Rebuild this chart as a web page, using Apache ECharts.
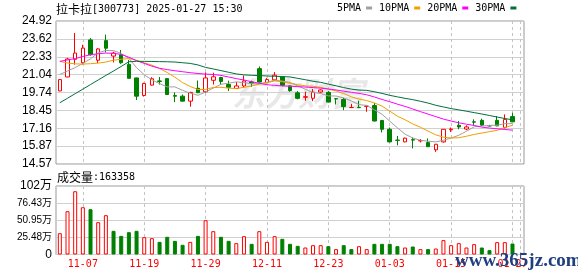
<!DOCTYPE html>
<html><head><meta charset="utf-8">
<script src="https://cdn.jsdelivr.net/npm/echarts/dist/echarts.min.js"></script>
<style>html,body{margin:0;padding:0;background:#fff}#c{width:578px;height:276px}</style>
</head><body><div id="c"></div>
<script>
const dates = ['11-04','11-05','11-06','11-07','11-08','11-11','11-12','11-13','11-14','11-15',
'11-18','11-19','11-20','11-21','11-22','11-25','11-26','11-27','11-28','11-29',
'12-02','12-03','12-04','12-05','12-06','12-09','12-10','12-11','12-12','12-13',
'12-16','12-17','12-18','12-19','12-20','12-23','12-24','12-25','12-26','12-27',
'12-30','12-31','01-02','01-03','01-06','01-07','01-08','01-09','01-10','01-13',
'01-14','01-15','01-16','01-17','01-20','01-21','01-22','01-23','01-24','01-27',''];

const open  = [19.86,20.87,22.15,21.90,23.55,22.08,23.50,22.38,22.48,21.78,
20.80,19.53,20.28,20.58,20.75,19.52,19.48,19.12,20.05,19.80,
20.63,20.83,20.32,20.03,20.22,20.50,21.47,20.47,20.66,20.87,
20.22,19.72,19.40,19.33,19.78,19.75,19.30,19.24,18.65,18.67,
18.74,18.80,17.72,17.08,16.30,16.17,16.33,16.24,16.12,15.60,
16.17,17.05,17.37,17.10,17.62,17.73,17.34,17.73,17.22,18.00];
const close = [20.68,22.17,22.60,22.96,22.48,22.90,22.95,22.60,21.90,20.77,
19.48,20.40,20.74,20.55,19.60,19.48,19.12,19.75,19.73,20.80,
20.88,20.55,20.12,20.22,20.58,20.42,20.50,20.68,21.00,20.27,
19.88,19.32,19.44,19.77,19.93,19.05,19.28,18.72,18.66,18.65,
18.76,17.68,17.08,16.17,16.28,16.44,16.30,16.27,15.82,16.00,
17.08,17.10,17.25,17.25,17.60,17.38,17.33,17.33,17.80,17.62];
const high  = [20.72,22.25,24.05,23.20,23.68,22.96,23.93,22.70,22.82,22.10,
20.82,20.45,20.85,20.87,20.78,19.75,19.60,19.80,20.61,21.20,
21.18,20.88,20.60,20.50,20.97,20.60,21.63,20.80,21.22,20.90,
20.26,19.85,19.80,20.00,19.98,19.85,19.30,19.36,18.92,19.15,
18.76,18.98,17.75,17.21,16.60,16.48,16.49,16.37,16.42,16.02,
17.10,17.21,17.68,17.37,17.80,17.85,17.40,18.04,18.16,18.28];
const low   = [19.84,20.85,21.76,21.78,22.42,21.88,22.65,21.92,21.82,20.75,
19.20,19.45,20.25,20.32,19.58,19.05,19.10,18.72,19.70,19.72,
20.32,20.35,19.85,20.00,20.10,20.15,20.45,20.42,20.60,20.20,
19.80,19.25,19.15,19.12,19.72,19.02,18.88,18.47,18.64,18.64,
18.35,17.66,16.85,16.15,15.92,16.15,15.70,16.13,15.80,15.45,
16.12,16.89,17.08,17.02,17.37,17.32,17.28,17.30,17.14,17.60];

const ma5  = [21.05,21.30,21.55,21.85,22.18,22.62,22.78,22.78,22.57,22.22,
21.54,21.03,20.66,20.39,20.15,20.15,19.90,19.70,19.54,19.78,
20.06,20.34,20.42,20.51,20.47,20.38,20.37,20.48,20.64,20.57,
20.47,20.23,19.98,19.74,19.67,19.50,19.49,19.35,19.13,18.87,
18.81,18.49,18.17,17.67,17.19,16.73,16.45,16.29,16.22,16.17,
16.29,16.45,16.65,16.94,17.26,17.32,17.36,17.38,17.49,17.49];
const ma10 = [22.00,21.88,21.82,21.80,21.83,21.87,21.95,22.08,22.15,22.20,
22.08,21.90,21.72,21.48,21.19,20.85,20.46,20.18,19.96,19.97,
20.11,20.12,20.06,20.03,20.12,20.22,20.36,20.45,20.58,20.52,
20.42,20.30,20.23,20.19,20.12,19.98,19.86,19.67,19.43,19.27,
19.16,18.99,18.76,18.40,18.03,17.77,17.47,17.23,16.95,16.68,
16.51,16.45,16.47,16.58,16.71,16.81,16.91,17.01,17.21,17.37];
const ma20 = [22.00,22.10,22.20,22.35,22.48,22.55,22.60,22.58,22.50,22.30,
22.05,21.85,21.65,21.50,21.40,21.32,21.25,21.18,21.12,21.08,
21.05,20.98,20.87,20.75,20.65,20.52,20.41,20.31,20.26,20.22,
20.20,20.17,20.14,20.10,20.06,20.00,19.93,19.84,19.76,19.68,
19.58,19.42,19.24,19.08,18.90,18.74,18.55,18.36,18.18,18.00,
17.82,17.68,17.55,17.45,17.36,17.24,17.17,17.12,17.07,17.02];
const ma30 = [19.00,19.33,19.66,19.99,20.32,20.65,20.98,21.30,21.63,21.97,
22.00,22.00,21.99,21.98,21.97,21.95,21.90,21.85,21.74,21.56,
21.45,21.33,21.21,21.09,21.02,20.99,20.97,20.94,20.92,20.90,
20.87,20.77,20.67,20.56,20.48,20.35,20.23,20.10,19.99,19.92,
19.90,19.80,19.68,19.54,19.43,19.32,19.23,19.11,18.98,18.82,
18.70,18.58,18.49,18.39,18.29,18.19,18.08,17.97,17.86,17.77];

const volume = [317000,644000,941000,703000,674000,481000,585000,352000,277000,332000,
352000,258000,243000,188000,263000,203000,144000,188000,277000,510000,
347000,263000,203000,169000,273000,159000,347000,188000,273000,233000,
159000,129000,104000,139000,139000,124000,80000,139000,80000,124000,
80000,159000,159000,159000,124000,104000,119000,80000,80000,89000,
214000,139000,169000,104000,154000,104000,65000,184000,184000,163358];
const volUp = [1,1,1,1,0,1,1,0,0,0,0,1,1,0,0,0,0,1,0,1,1,0,0,1,1,0,1,1,1,0,
0,0,1,1,1,0,1,0,0,1,1,0,0,0,0,1,0,1,0,1,1,1,1,1,1,0,0,1,1,0];

const priceTicks = ['14.57','15.87','17.16','18.45','19.74','21.04','22.33','23.62','24.92'];
const volTicks = ['0','25.48万','50.95万','76.43万','102万'];
const maNames = ['5PMA','10PMA','20PMA','30PMA'];
const maColors = ['#a0a0a0','#f0a000','#ff00ff','#00703c'];
const maData = [ma5, ma10, ma20, ma30];

const PMIN = 14.57, PMAX = 24.92, PINT = (PMAX - PMIN) / 8;
const VMAX = 1019100, VINT = VMAX / 4;

const GL = 56, GW = 468;
const band = GW / dates.length;
const PT = 21, PH = 143, VT = 186, VH = 68.5;

const chart = echarts.init(document.getElementById('c'), null, {renderer: 'canvas'});
const mono = 'DejaVu Sans Mono';
const cjk = 'Noto Sans CJK SC';
const titleRich = {c: {fontFamily: cjk, fontSize: 12, color: '#000', fontWeight: 'normal'},
                   m: {fontFamily: mono, fontSize: 10, color: '#000', fontWeight: 'normal'}};

// Overlay grids shifted half a day left: their category boundaries fall on the day centres,
// so their split lines mark the labelled days (every 8th day, starting with day 3).
const dashStyle = {type: [3, 3], color: '#c4c4c4', width: 1};
const overlayX = g => ({type: 'category', gridIndex: g, data: dates, boundaryGap: true,
  axisLine: {show: false}, axisTick: {show: false}, axisLabel: {show: false},
  splitLine: {show: true, interval: i => i % 8 === 4, lineStyle: dashStyle}});
const overlayY = (g, mn, mx) => ({type: 'value', gridIndex: g, min: mn, max: mx,
  axisLine: {show: false}, axisTick: {show: false}, axisLabel: {show: false}, splitLine: {show: false}});

chart.setOption({
  animation: false,
  backgroundColor: '#fff',
  title: [
    {text: '{c|拉卡拉}{m|[300773] 2025-01-27 15:30}', left: 56, top: 3, padding: 0,
     textStyle: {fontWeight: 'normal', rich: titleRich}},
    {text: '{c|成交量}{m|:163358}', left: 57, top: 171, padding: 0,
     textStyle: {fontWeight: 'normal', rich: titleRich}}
  ],
  legend: {
    data: maNames, left: 337, top: 3, padding: 0, align: 'right', icon: 'rect',
    itemWidth: 6, itemHeight: 3, itemGap: 7, selectedMode: false,
    textStyle: {fontFamily: mono, fontSize: 10, color: '#000'}
  },
  graphic: [
    {type: 'text', left: 232, top: 77, z: 0, silent: true,
     style: {text: '东方财富', fontFamily: cjk, fontSize: 33, fontWeight: 'bold', fontStyle: 'italic', fill: '#e8e8e8'}},
    {type: 'text', left: 455, top: 252, z: 100, silent: true,
     style: {text: 'www.365jz.com', fontFamily: 'Liberation Serif', fontSize: 19, fontWeight: 'bold', fill: '#1f3f80'}}
  ],
  grid: [
    {left: GL, top: PT, width: GW, height: PH, show: true, borderColor: '#999', borderWidth: 1},
    {left: GL, top: VT, width: GW, height: VH, show: true, borderColor: '#999', borderWidth: 1},
    {left: GL - band / 2, top: PT, width: GW, height: PH, show: false},
    {left: GL - band / 2, top: VT, width: GW, height: VH, show: false}
  ],
  xAxis: [
    {type: 'category', gridIndex: 0, data: dates, boundaryGap: true,
     axisLine: {show: false}, axisTick: {show: false}, axisLabel: {show: false}, splitLine: {show: false}},
    {type: 'category', gridIndex: 1, data: dates, boundaryGap: true,
     axisLine: {show: false}, axisTick: {show: false}, splitLine: {show: false},
     axisLabel: {interval: (i) => i % 8 === 3, color: '#ff0000', fontFamily: mono, fontSize: 10, margin: 5}},
    overlayX(2),
    overlayX(3)
  ],
  yAxis: [
    {type: 'value', gridIndex: 0, min: PMIN, max: PMAX, interval: PINT,
     axisLine: {show: false}, axisTick: {show: false},
     axisLabel: {color: '#000', fontFamily: 'Liberation Sans', fontSize: 12, margin: 4,
       formatter: v => { const k = Math.round((v - PMIN) / PINT); return priceTicks[k] || ''; }},
     splitLine: {lineStyle: {color: '#d0d0d0', width: 1}}},
    {type: 'value', gridIndex: 1, min: 0, max: VMAX, interval: VINT,
     axisLine: {show: false}, axisTick: {show: false},
     axisLabel: {color: '#000', margin: 4,
       formatter: v => { const t = volTicks[Math.round(v / VINT)] || ''; return t.length > 4 ? '{s|' + t + '}' : '{b|' + t + '}'; },
       rich: {s: {fontFamily: 'Liberation Sans, ' + cjk, fontSize: 10, color: '#000'},
              b: {fontFamily: 'Liberation Sans, ' + cjk, fontSize: 12, color: '#000'}}},
     splitLine: {lineStyle: {color: '#d0d0d0', width: 1}}},
    overlayY(2, PMIN, PMAX),
    overlayY(3, 0, VMAX)
  ],
  series: [
    {type: 'candlestick', name: 'K', xAxisIndex: 0, yAxisIndex: 0, barWidth: 4,
     data: open.map((o, i) => [o, close[i], low[i], high[i]]),
     itemStyle: {color: '#ffffff', color0: '#008000', borderColor: '#ff0000', borderColor0: '#008000', borderWidth: 1}, z: 2},
    ...maNames.map((n, j) => ({
      type: 'line', name: n, xAxisIndex: 0, yAxisIndex: 0, data: maData[j], symbol: 'none',
      lineStyle: {width: 1, color: maColors[j]}, itemStyle: {color: maColors[j]}, z: 3
    })),
    {type: 'bar', xAxisIndex: 1, yAxisIndex: 1, barWidth: 4,
     data: volume.map((v, i) => ({value: v, itemStyle: volUp[i]
        ? {color: '#ffffff', borderColor: '#ff0000', borderWidth: 1}
        : {color: '#008000', borderColor: '#008000', borderWidth: 1}}))},
    // invisible carriers so the overlay axes are laid out and drawn
    {type: 'line', xAxisIndex: 2, yAxisIndex: 2, data: close, symbol: 'none', silent: true,
     lineStyle: {opacity: 0}, itemStyle: {opacity: 0}, tooltip: {show: false}},
    {type: 'line', xAxisIndex: 3, yAxisIndex: 3, data: volume, symbol: 'none', silent: true,
     lineStyle: {opacity: 0}, itemStyle: {opacity: 0}, tooltip: {show: false}}
  ]
});
</script></body></html>
